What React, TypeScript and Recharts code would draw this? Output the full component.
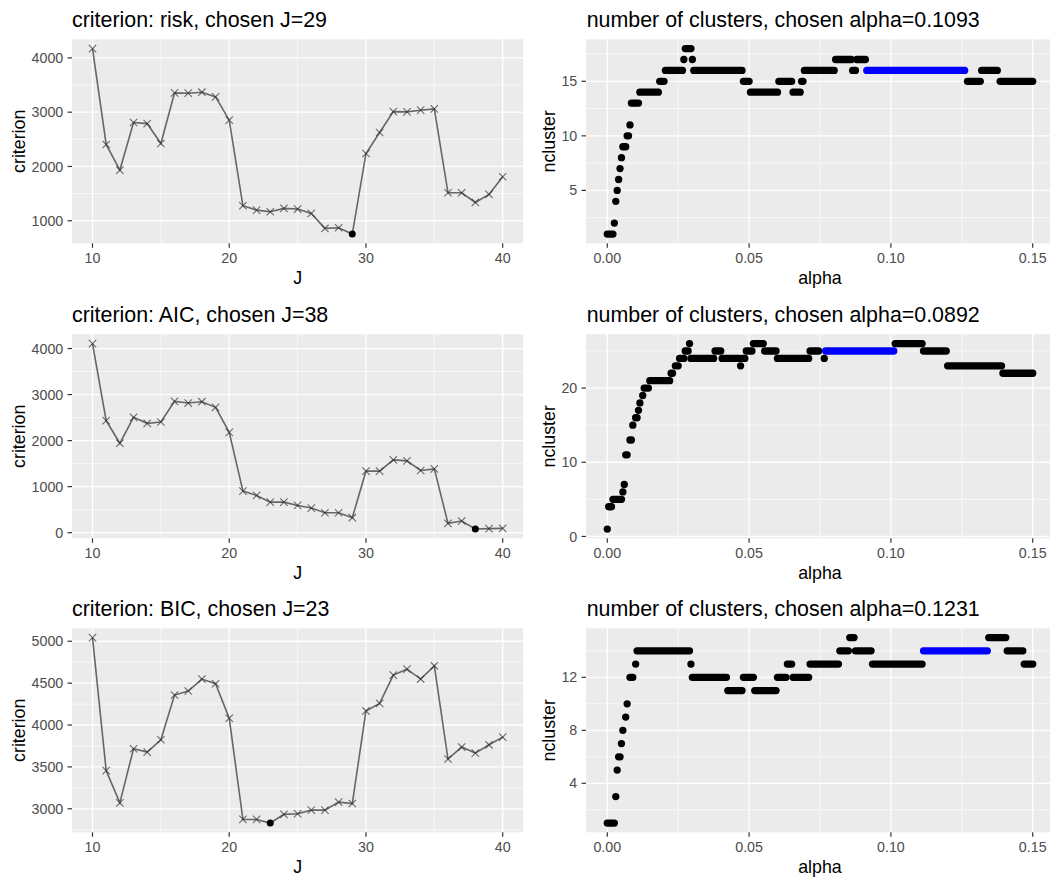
import React from 'react';
import { ComposedChart, Line, XAxis, YAxis, CartesianGrid } from 'recharts';

// ---------- data: criterion curves ----------
const J_VALUES = [10, 11, 12, 13, 14, 15, 16, 17, 18, 19, 20, 21, 22, 23, 24, 25, 26, 27, 28, 29, 30, 31, 32, 33, 34, 35, 36, 37, 38, 39, 40];
const RISK_VALUES = [4172, 2405, 1933, 2810, 2790, 2423, 3356, 3350, 3368, 3282, 2853, 1276, 1196, 1166, 1227, 1215, 1135, 859, 871, 755, 2239, 2626, 3010, 3005, 3037, 3061, 1515, 1515, 1337, 1485, 1810];
const AIC_VALUES = [4108, 2433, 1942, 2505, 2375, 2404, 2852, 2816, 2845, 2722, 2180, 903, 809, 664, 664, 592, 534, 433, 433, 325, 1336, 1336, 1581, 1560, 1350, 1386, 202, 253, 79, 87, 94];
const BIC_VALUES = [5044, 3455, 3071, 3717, 3677, 3824, 4358, 4406, 4549, 4493, 4081, 2873, 2873, 2830, 2933, 2941, 2984, 2984, 3079, 3063, 4168, 4259, 4596, 4667, 4549, 4707, 3594, 3737, 3665, 3764, 3855];
const CHOSEN_J = [29, 38, 23];

const J_TICKS = [10, 20, 30, 40];
const J_MINOR = [15, 25, 35];
const RISK_TICKS = [1000, 2000, 3000, 4000];
const RISK_MINOR = [1500, 2500, 3500];
const AIC_TICKS = [0, 1000, 2000, 3000, 4000];
const AIC_MINOR = [500, 1500, 2500, 3500];
const BIC_TICKS = [3000, 3500, 4000, 4500, 5000];
const BIC_MINOR = [2750, 3250, 3750, 4250, 4750];

// ---------- data: number of clusters vs alpha (runs of constant ncluster) ----------
const RISK_RUN_START = [0.000, 0.0025, 0.003, 0.0035, 0.004, 0.0045, 0.005, 0.0055, 0.007, 0.008, 0.0085, 0.0115, 0.0185, 0.0205, 0.027, 0.0275, 0.030, 0.0305, 0.048, 0.0505, 0.0605, 0.0655, 0.0685, 0.0695, 0.0805, 0.0865, 0.088, 0.0915, 0.127, 0.132, 0.1385];
const RISK_RUN_END = [0.002, 0.0025, 0.003, 0.0035, 0.004, 0.0045, 0.005, 0.0065, 0.0075, 0.008, 0.011, 0.018, 0.020, 0.0265, 0.027, 0.0295, 0.030, 0.0475, 0.050, 0.060, 0.065, 0.068, 0.069, 0.080, 0.086, 0.0875, 0.091, 0.126, 0.1315, 0.1375, 0.150];
const RISK_RUN_VALUE = [1, 2, 4, 5, 6, 7, 8, 9, 10, 11, 13, 14, 15, 16, 17, 18, 17, 16, 15, 14, 15, 14, 15, 16, 17, 16, 17, 16, 15, 16, 15];
const RISK_ALPHA_CHOSEN = 0.1093;

const AIC_RUN_START = [0.000, 0.0005, 0.002, 0.0055, 0.006, 0.0065, 0.008, 0.009, 0.010, 0.011, 0.0115, 0.0125, 0.013, 0.015, 0.0225, 0.024, 0.0255, 0.0275, 0.029, 0.0295, 0.038, 0.0405, 0.047, 0.0475, 0.049, 0.0515, 0.0555, 0.060, 0.0715, 0.0765, 0.077, 0.1015, 0.1115, 0.120, 0.1395];
const AIC_RUN_END = [0.000, 0.0015, 0.005, 0.0055, 0.006, 0.007, 0.0085, 0.009, 0.0105, 0.011, 0.0115, 0.0125, 0.0145, 0.022, 0.023, 0.025, 0.027, 0.0285, 0.029, 0.0375, 0.040, 0.0465, 0.047, 0.0485, 0.051, 0.055, 0.0595, 0.071, 0.0745, 0.0765, 0.101, 0.111, 0.1195, 0.139, 0.150];
const AIC_RUN_VALUE = [1, 4, 5, 6, 7, 11, 13, 15, 16, 17, 18, 19, 20, 21, 22, 23, 24, 25, 26, 24, 25, 24, 23, 24, 25, 26, 25, 24, 25, 24, 25, 26, 25, 23, 22];
const AIC_ALPHA_CHOSEN = 0.0892;

const BIC_RUN_START = [0.000, 0.003, 0.0035, 0.004, 0.005, 0.0055, 0.0065, 0.007, 0.008, 0.010, 0.0105, 0.0295, 0.030, 0.0425, 0.048, 0.052, 0.060, 0.0635, 0.0655, 0.0715, 0.082, 0.0855, 0.0875, 0.0935, 0.1115, 0.1345, 0.141, 0.147];
const BIC_RUN_END = [0.0025, 0.003, 0.0035, 0.0045, 0.005, 0.0055, 0.0065, 0.007, 0.009, 0.010, 0.029, 0.0295, 0.042, 0.0475, 0.0515, 0.0595, 0.063, 0.065, 0.071, 0.0815, 0.085, 0.087, 0.093, 0.111, 0.134, 0.1405, 0.1465, 0.150];
const BIC_RUN_VALUE = [1, 3, 5, 6, 7, 8, 9, 10, 12, 13, 14, 13, 12, 11, 12, 11, 12, 13, 12, 13, 14, 15, 14, 13, 14, 15, 14, 13];
const BIC_ALPHA_CHOSEN = 0.1231;

const ALPHA_TICKS = [0, 0.05, 0.1, 0.15];
const ALPHA_MINOR = [0.025, 0.075, 0.125];
const NC_RISK_TICKS = [5, 10, 15];
const NC_RISK_MINOR = [2.5, 7.5, 12.5, 17.5];
const NC_AIC_TICKS = [0, 10, 20];
const NC_AIC_MINOR = [5, 15, 25];
const NC_BIC_TICKS = [4, 8, 12];
const NC_BIC_MINOR = [2, 6, 10, 14];

const TITLES_LEFT = ['criterion: risk, chosen J=29', 'criterion: AIC, chosen J=38', 'criterion: BIC, chosen J=23'];
const TITLES_RIGHT = ['number of clusters, chosen alpha=0.1093', 'number of clusters, chosen alpha=0.0892', 'number of clusters, chosen alpha=0.1231'];

// ---------- layout ----------
const FONT = '"Liberation Sans", Arial, Helvetica, sans-serif';
const ROW_TOP = [0, 295, 589];
const ROW_H = 295;
const PLOT_TOP = 39.3;
const PLOT_H = 204;
const LEFT_W = 530;
const LEFT_AXIS_W = 72;
const LEFT_RIGHT_MARGIN = 6.8;
const RIGHT_X = 524;
const RIGHT_W = 530;
const RIGHT_AXIS_W = 62;
const BG = '#EBEBEB';
const TICK_SIZE = 4.45;
const TICK_FONT = 14.25;

const tickStyle = { fontSize: TICK_FONT, fill: '#4D4D4D', fontFamily: FONT };

function padDomain(vals: number[], lo?: number, hi?: number): [number, number] {
  const mn = lo !== undefined ? lo : Math.min(...vals);
  const mx = hi !== undefined ? hi : Math.max(...vals);
  const pad = (mx - mn) * 0.05;
  return [mn - pad, mx + pad];
}

function crossMarker(chosen: number) {
  return (props: any) => {
    const { cx, cy, payload, index } = props;
    if (cx == null || cy == null) return <g key={index} />;
    if (payload.J === chosen) {
      return <circle key={index} cx={cx} cy={cy} r={3.5} fill="#000" />;
    }
    const s = 3.7;
    return (
      <g key={index} stroke="#333333" strokeOpacity={0.7} strokeWidth={1.1}>
        <line x1={cx - s} y1={cy - s} x2={cx + s} y2={cy + s} />
        <line x1={cx - s} y1={cy + s} x2={cx + s} y2={cy - s} />
      </g>
    );
  };
}

function CriterionPanel({ row, values, chosen, ticks, minor }: { row: number; values: number[]; chosen: number; ticks: number[]; minor: number[] }) {
  const data = J_VALUES.map((j, i) => ({ J: j, criterion: values[i] }));
  const yDomain = padDomain(values);
  const xDomain = padDomain(J_VALUES);
  return (
    <div style={{ position: 'absolute', left: 0, top: ROW_TOP[row], width: LEFT_W, height: ROW_H }}>
      <ComposedChart
        width={LEFT_W}
        height={ROW_H}
        data={data}
        margin={{ top: PLOT_TOP, right: LEFT_RIGHT_MARGIN, bottom: 0, left: 0 }}
      >
        <CartesianGrid
          fill={BG}
          fillOpacity={1}
          stroke="#FFFFFF"
          strokeWidth={0.65}
          horizontalValues={minor}
          verticalValues={J_MINOR}
          syncWithTicks={false}
        />
        <CartesianGrid
          fill="none"
          stroke="#FFFFFF"
          strokeWidth={1.3}
          horizontalValues={ticks}
          verticalValues={J_TICKS}
          syncWithTicks={false}
        />
        <XAxis
          type="number"
          dataKey="J"
          domain={xDomain}
          ticks={J_TICKS}
          allowDataOverflow
          height={ROW_H - PLOT_TOP - PLOT_H}
          axisLine={false}
          tickSize={TICK_SIZE}
          tickMargin={5.4}
          tickLine={{ stroke: '#333333', strokeWidth: 1.2 }}
          tick={tickStyle}
          interval={0}
        />
        <YAxis
          type="number"
          domain={yDomain}
          ticks={ticks}
          allowDataOverflow
          width={LEFT_AXIS_W}
          axisLine={false}
          tickSize={TICK_SIZE}
          tickMargin={4.3}
          tickLine={{ stroke: '#333333', strokeWidth: 1.2 }}
          tick={tickStyle}
          interval={0}
        />
        <Line
          type="linear"
          dataKey="criterion"
          stroke="#666666"
          strokeWidth={1.6}
          dot={crossMarker(chosen)}
          activeDot={false}
          isAnimationActive={false}
        />
      </ComposedChart>
    </div>
  );
}

function ClusterPanel({ row, starts, ends, vals, chosenAlpha, ticks, minor }: { row: number; starts: number[]; ends: number[]; vals: number[]; chosenAlpha: number; ticks: number[]; minor: number[] }) {
  const yDomain = padDomain(vals);
  const xDomain = padDomain([], 0, 0.15);
  const runs = starts.map((s, i) => ({
    i,
    blue: chosenAlpha >= s - 1e-9 && chosenAlpha <= ends[i] + 1e-9,
    data: [
      { alpha: s, ncluster: vals[i] },
      { alpha: ends[i], ncluster: vals[i] },
    ],
  }));
  const ordered = [...runs.filter((r) => !r.blue), ...runs.filter((r) => r.blue)];
  return (
    <div style={{ position: 'absolute', left: RIGHT_X, top: ROW_TOP[row], width: RIGHT_W, height: ROW_H }}>
      <ComposedChart
        width={RIGHT_W}
        height={ROW_H}
        margin={{ top: PLOT_TOP, right: 0, bottom: 0, left: 0 }}
      >
        <CartesianGrid
          fill={BG}
          fillOpacity={1}
          stroke="#FFFFFF"
          strokeWidth={0.65}
          horizontalValues={minor}
          verticalValues={ALPHA_MINOR}
          syncWithTicks={false}
        />
        <CartesianGrid
          fill="none"
          stroke="#FFFFFF"
          strokeWidth={1.3}
          horizontalValues={ticks}
          verticalValues={ALPHA_TICKS}
          syncWithTicks={false}
        />
        <XAxis
          type="number"
          dataKey="alpha"
          domain={xDomain}
          ticks={ALPHA_TICKS}
          allowDataOverflow
          height={ROW_H - PLOT_TOP - PLOT_H}
          axisLine={false}
          tickSize={TICK_SIZE}
          tickMargin={5.4}
          tickLine={{ stroke: '#333333', strokeWidth: 1.2 }}
          tick={tickStyle}
          tickFormatter={(v: number) => v.toFixed(2)}
          interval={0}
        />
        <YAxis
          type="number"
          dataKey="ncluster"
          domain={yDomain}
          ticks={ticks}
          allowDataOverflow
          width={RIGHT_AXIS_W}
          axisLine={false}
          tickSize={TICK_SIZE}
          tickMargin={4.3}
          tickLine={{ stroke: '#333333', strokeWidth: 1.2 }}
          tick={tickStyle}
          interval={0}
        />
        {ordered.map((r) => (
          <Line
            key={r.i}
            data={r.data}
            type="linear"
            dataKey="ncluster"
            stroke={r.blue ? '#0000FF' : '#000000'}
            strokeWidth={7.3}
            strokeLinecap="round"
            dot={false}
            activeDot={false}
            isAnimationActive={false}
          />
        ))}
      </ComposedChart>
    </div>
  );
}

function TextOverlay() {
  const leftPlotX0 = LEFT_AXIS_W;
  const leftPlotX1 = LEFT_W - LEFT_RIGHT_MARGIN;
  const rightPlotX0 = RIGHT_X + RIGHT_AXIS_W;
  const rightPlotX1 = RIGHT_X + RIGHT_W;
  return (
    <svg width={1050} height={877} style={{ position: 'absolute', left: 0, top: 0, pointerEvents: 'none', fontFamily: FONT }}>
      {ROW_TOP.map((t, r) => (
        <g key={r}>
          <text x={leftPlotX0} y={t + 26.7} fontSize={21.4} fill="#000">{TITLES_LEFT[r]}</text>
          <text x={rightPlotX0 + 0.7} y={t + 26.7} fontSize={21.4} fill="#000">{TITLES_RIGHT[r]}</text>
          <text x={(leftPlotX0 + leftPlotX1) / 2} y={t + 284} fontSize={17.8} textAnchor="middle" fill="#000">J</text>
          <text x={(rightPlotX0 + rightPlotX1) / 2} y={t + 284} fontSize={17.8} textAnchor="middle" fill="#000">alpha</text>
          <text
            x={25}
            y={t + PLOT_TOP + PLOT_H / 2}
            fontSize={17.8}
            textAnchor="middle"
            fill="#000"
            transform={`rotate(-90 25 ${t + PLOT_TOP + PLOT_H / 2})`}
          >
            criterion
          </text>
          <text
            x={555}
            y={t + PLOT_TOP + PLOT_H / 2}
            fontSize={17.8}
            textAnchor="middle"
            fill="#000"
            transform={`rotate(-90 555 ${t + PLOT_TOP + PLOT_H / 2})`}
          >
            ncluster
          </text>
        </g>
      ))}
    </svg>
  );
}

export default function App() {
  return (
    <div style={{ position: 'absolute', left: 0, top: 0, width: 1050, height: 877, overflow: 'hidden', background: '#FFFFFF', fontFamily: FONT }}>
      <CriterionPanel row={0} values={RISK_VALUES} chosen={CHOSEN_J[0]} ticks={RISK_TICKS} minor={RISK_MINOR} />
      <CriterionPanel row={1} values={AIC_VALUES} chosen={CHOSEN_J[1]} ticks={AIC_TICKS} minor={AIC_MINOR} />
      <CriterionPanel row={2} values={BIC_VALUES} chosen={CHOSEN_J[2]} ticks={BIC_TICKS} minor={BIC_MINOR} />
      <ClusterPanel row={0} starts={RISK_RUN_START} ends={RISK_RUN_END} vals={RISK_RUN_VALUE} chosenAlpha={RISK_ALPHA_CHOSEN} ticks={NC_RISK_TICKS} minor={NC_RISK_MINOR} />
      <ClusterPanel row={1} starts={AIC_RUN_START} ends={AIC_RUN_END} vals={AIC_RUN_VALUE} chosenAlpha={AIC_ALPHA_CHOSEN} ticks={NC_AIC_TICKS} minor={NC_AIC_MINOR} />
      <ClusterPanel row={2} starts={BIC_RUN_START} ends={BIC_RUN_END} vals={BIC_RUN_VALUE} chosenAlpha={BIC_ALPHA_CHOSEN} ticks={NC_BIC_TICKS} minor={NC_BIC_MINOR} />
      <TextOverlay />
    </div>
  );
}
